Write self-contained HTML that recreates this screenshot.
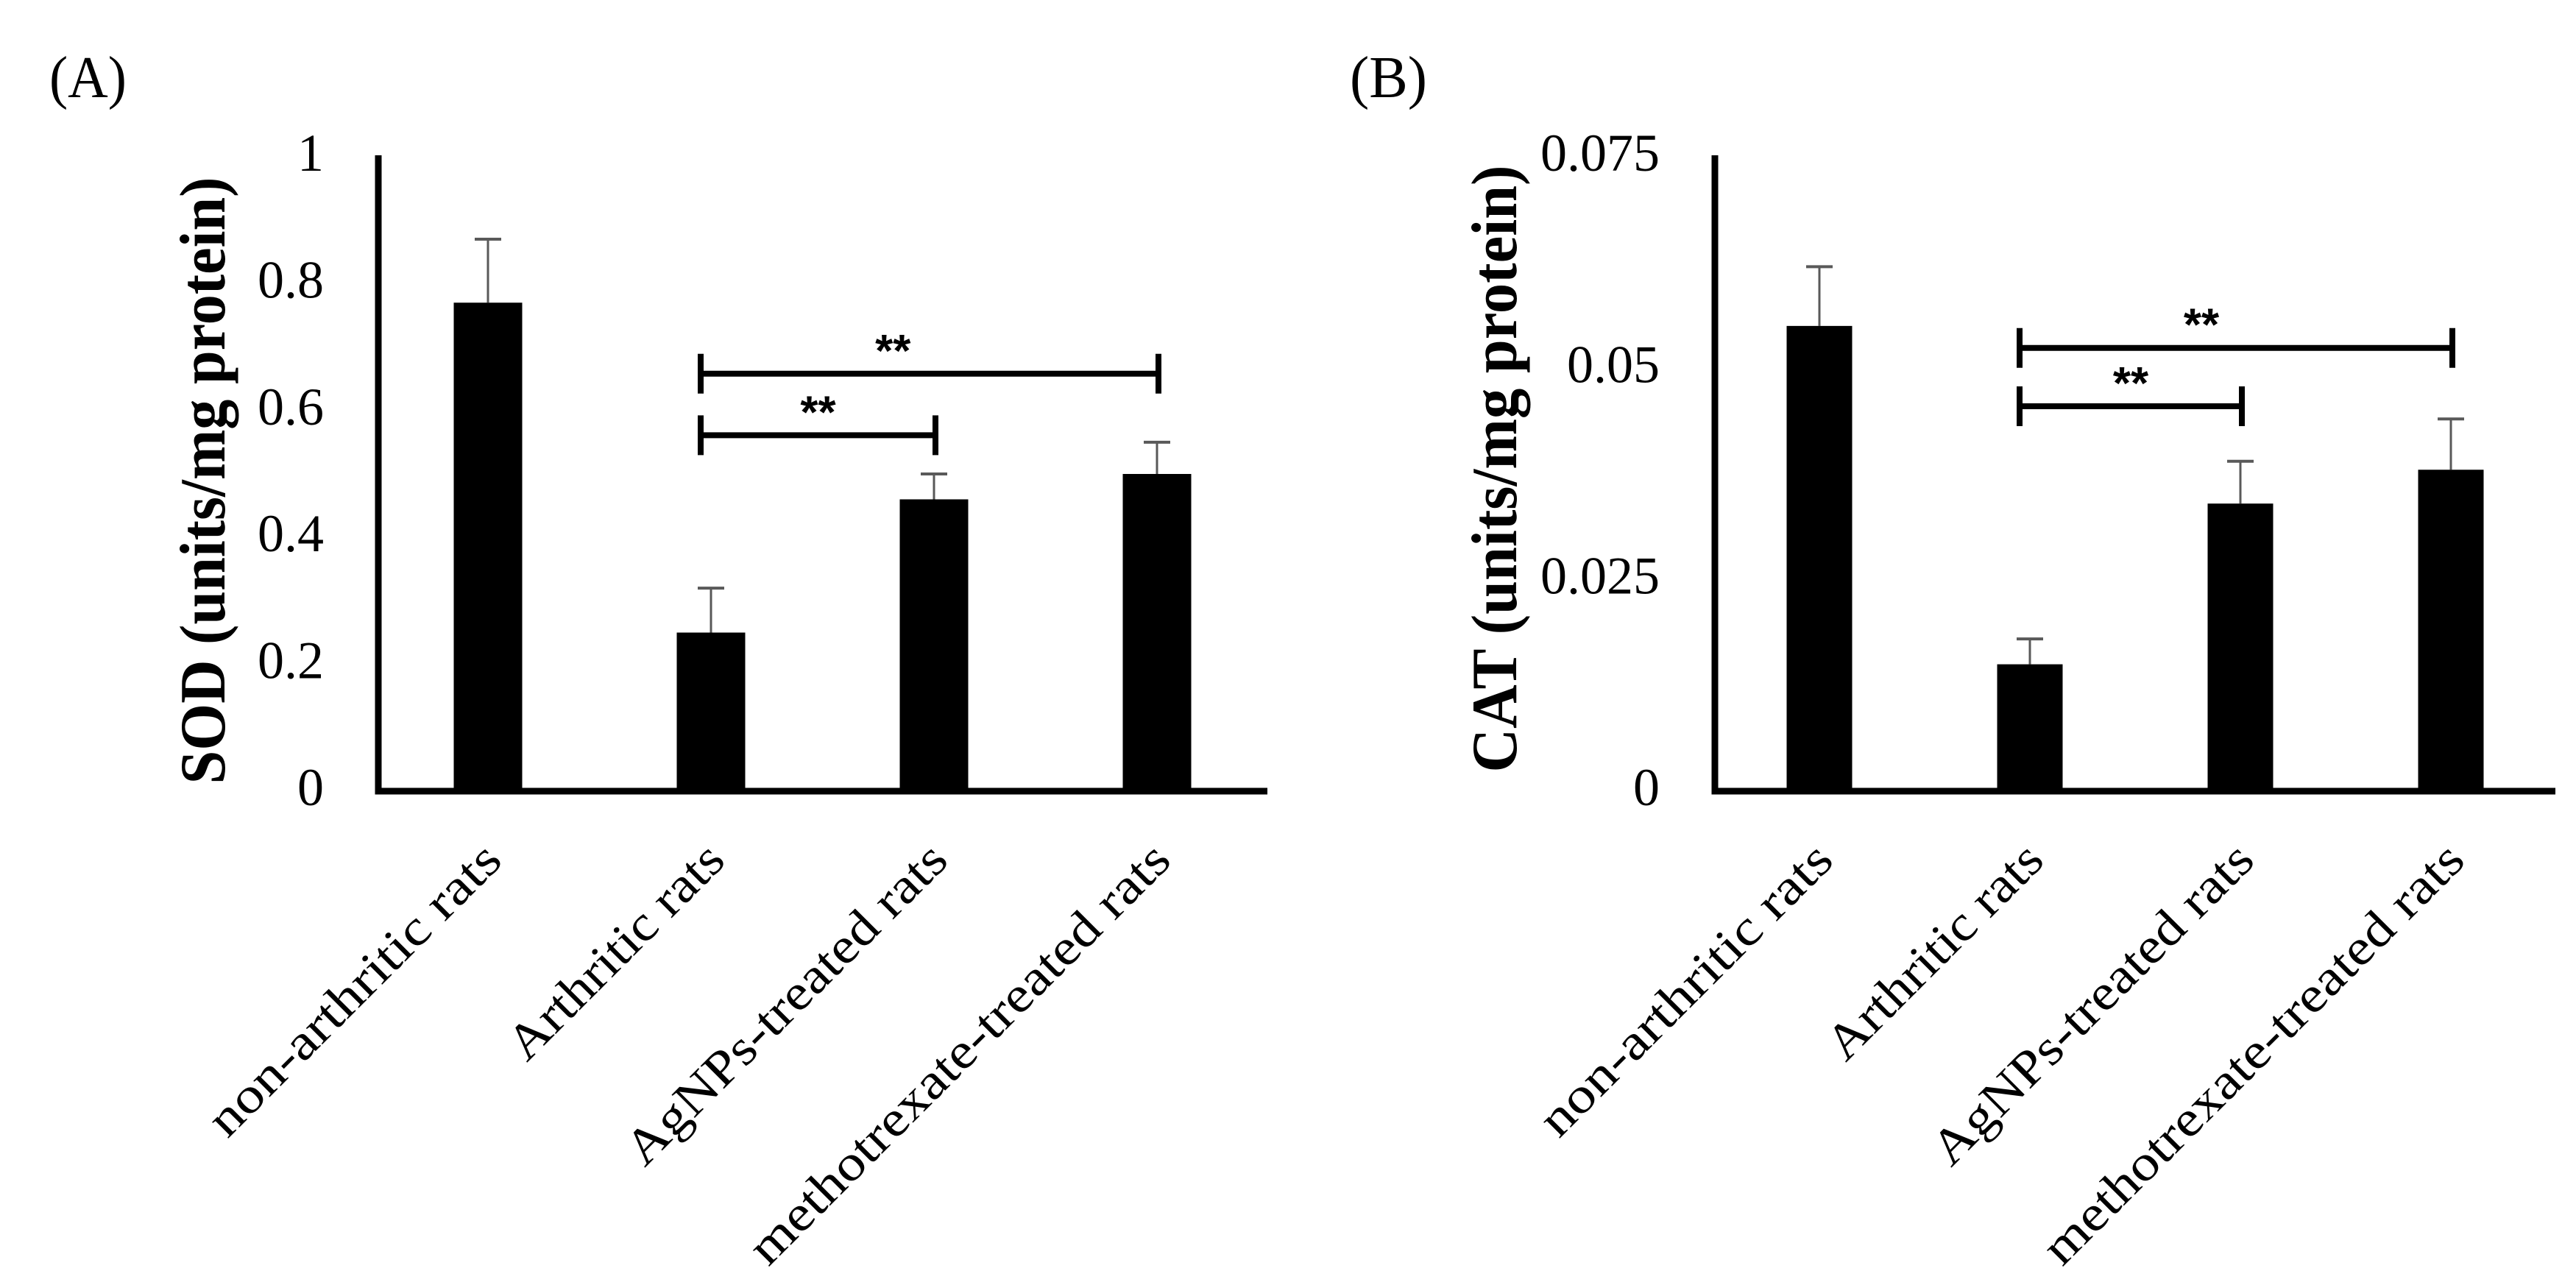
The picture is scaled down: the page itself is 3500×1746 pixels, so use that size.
<!DOCTYPE html>
<html><head><meta charset="utf-8"><style>
html,body{margin:0;padding:0;background:#fff;}
svg{display:block;}
text{font-family:"Liberation Serif",serif;}
</style></head><body>
<svg id="chart" width="3500" height="1746" viewBox="0 0 3500 1746" xmlns="http://www.w3.org/2000/svg">
<rect width="3500" height="1746" fill="#fff"/>
</svg>
<script>
const categories = ["non-arthritic rats","Arthritic rats","AgNPs-treated rats","methotrexate-treated rats"];
const sodValues = [0.77, 0.25, 0.46, 0.50];
const sodErrors = [0.10, 0.07, 0.04, 0.05];
const sodTicks = [0, 0.2, 0.4, 0.6, 0.8, 1];
const sodTickLabels = ["0","0.2","0.4","0.6","0.8","1"];
const catValues = [0.055, 0.015, 0.034, 0.038];
const catErrors = [0.007, 0.003, 0.005, 0.006];
const catTicks = [0, 0.025, 0.05, 0.075];
const catTickLabels = ["0","0.025","0.05","0.075"];
const sodBrackets = [[1,3,0.658],[1,2,0.561]];
const catBrackets = [[1,3,0.0524],[1,2,0.0455]];
const xLabelLengths = [532, 385, 587, 778];

const NS = "http://www.w3.org/2000/svg";
const svg = document.getElementById('chart');
function mk(tag, attrs, parent, text){
  const e = document.createElementNS(NS, tag);
  for (const k in attrs) e.setAttribute(k, attrs[k]);
  if (text !== undefined) e.textContent = text;
  (parent||svg).appendChild(e);
  return e;
}

function panel(cfg){
  const g = mk('g', {});
  
  
  const y = v => cfg.y0 - (v / cfg.vmax) * (cfg.y0 - cfg.y1);
  const x = i => cfg.x0 + i * cfg.step;

  const lab = mk('text', {x: cfg.labX, y: 132, 'font-size': 80, textLength: 105, lengthAdjust: 'spacingAndGlyphs'}, g, cfg.letter);
  
  

  cfg.ticks.forEach((t, i) => {
    const tt = mk('text', {x: cfg.tickRight, y: y(t) + 19, 'font-size': 72, 'text-anchor': 'end'}, g, cfg.tickLabels[i]);
    
    
  });

  const yt = mk('text', {x: 0, y: 0, 'font-size': 88, 'font-weight': 'bold', 'text-anchor': 'middle', textLength: 825, lengthAdjust: 'spacingAndGlyphs', transform: `translate(${cfg.titleX},${cfg.titleY}) rotate(-90)`}, g, cfg.title);
  
  

  cfg.values.forEach((v, i) => {
    const cx = x(i);
    const top = y(v + cfg.errors[i]);
    const el = mk('line', {x1: cx, x2: cx, y1: y(v), y2: top, stroke: '#595959', 'stroke-width': 3}, g);
    
    
    const cap = mk('line', {x1: cx - 18, x2: cx + 18, y1: top, y2: top, stroke: '#595959', 'stroke-width': 4}, g);
    
    
    const b = mk('rect', {x: cx - cfg.bw / 2, y: y(v), width: cfg.bw, height: cfg.y0 - y(v), fill: '#000'}, g);
    
    
  });

  const ax = mk('path', {d: `M${cfg.axisX},${cfg.y1 - 2} V${cfg.y0} H${cfg.axisEnd}`, fill: 'none', stroke: '#000', 'stroke-width': 9}, g);
  
  

  cfg.brackets.forEach((br, k) => {
    const xa = x(br[0]) - 14, xb = x(br[1]) + 2, by = y(br[2]);
    const p = mk('path', {d: `M${xa},${by - 27} V${by + 27} M${xa},${by} H${xb} M${xb},${by - 27} V${by + 27}`, fill: 'none', stroke: '#000', 'stroke-width': 8}, g);
    
    
    const sx = k === 0 ? xa + (xb - xa) * 0.42 : (xa + xb) / 2;
    const s = mk('text', {x: sx, y: by - 10, 'font-size': 62, 'font-weight': 'bold', 'text-anchor': 'middle', style: 'font-family:"Liberation Sans",sans-serif'}, g, '**');
    
    
  });

  categories.forEach((c, i) => {
    const px = x(i) + 22, py = 1172;
    const t = mk('text', {x: 0, y: 0, 'font-size': 68, 'text-anchor': 'end', textLength: xLabelLengths[i], lengthAdjust: 'spacingAndGlyphs', transform: `translate(${px},${py}) rotate(-45)`}, g, c);
    
    
  });
}

panel({name: 'sod-chart', letter: '(A)', labX: 67, values: sodValues, errors: sodErrors, vmax: 1, ticks: sodTicks, tickLabels: sodTickLabels,
  y0: 1075, y1: 213, x0: 663, step: 303, bw: 93, axisX: 514, axisEnd: 1722, tickRight: 440,
  titleX: 305, titleY: 653, title: 'SOD (units/mg protein)', brackets: sodBrackets});
panel({name: 'cat-chart', letter: '(B)', labX: 1834, values: catValues, errors: catErrors, vmax: 0.075, ticks: catTicks, tickLabels: catTickLabels,
  y0: 1075, y1: 213, x0: 2472, step: 286, bw: 89, axisX: 2330, axisEnd: 3472, tickRight: 2255,
  titleX: 2060, titleY: 637, title: 'CAT (units/mg protein)', brackets: catBrackets});
</script>
</body></html>
